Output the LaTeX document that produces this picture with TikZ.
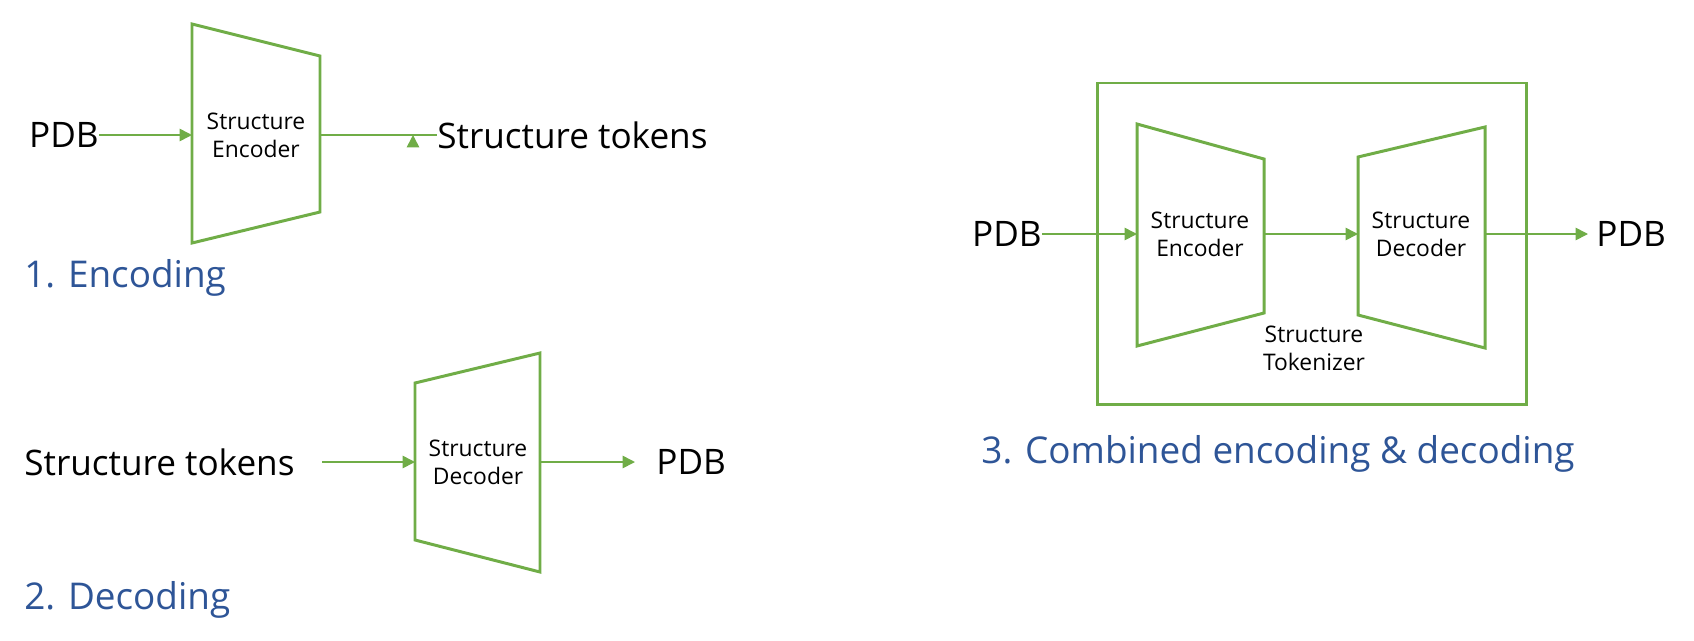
\documentclass[tikz,border=0pt]{standalone}
\usepackage{fontspec}
\setmainfont{Open Sans}
\usetikzlibrary{arrows.meta}
\definecolor{grn}{HTML}{70AD47}
\definecolor{ttl}{HTML}{2E5597}
\tikzset{
  part/.style={draw=grn, line width=1.7pt, line join=miter},
  flow/.style={draw=grn, line width=0.9pt, -{Triangle[length=7pt,width=7pt]}},
  big/.style={font=\fontsize{20}{24}\selectfont, inner sep=0pt},
  small/.style={font=\fontsize{13}{16}\selectfont, align=center, inner sep=0pt},
  title/.style={font=\fontsize{21}{25}\selectfont, text=ttl, inner sep=0pt}
}
\begin{document}
\begin{tikzpicture}[x=0.02cm, y=-0.02cm]
\useasboundingbox (0,0) rectangle (1694,640);

% 1. encoding
\draw[part] (192,24) -- (320,56) -- (320,212) -- (192,243) -- cycle;
\coordinate (enc1in) at (192,135);
\coordinate (enc1out) at (320,135);
\node[small] (enc1) at (256,135) {Structure\\Encoder};
\node[big, anchor=east] (pdb1) at (99,135) {PDB};
\node[big, anchor=west] (tok1) at (437,135) {Structure tokens};
\draw[flow] (pdb1.east) -- (enc1in);
\draw[flow] (enc1out) -- (tok1.west) ++(-24,0);
\node[title, anchor=west] (t1) at (24,278) {1. Encoding};

% 2. decoding
\draw[part] (415,383) -- (540,353) -- (540,572) -- (415,540) -- cycle;
\coordinate (dec2in) at (415,462);
\coordinate (dec2out) at (540,462);
\node[small] (dec2) at (478,462) {Structure\\Decoder};
\node[big, anchor=west] (tok2) at (24,462) {Structure tokens};
\node[big, anchor=west] (pdb2) at (656,462) {PDB};
\coordinate (tok2end) at (322,462);
\coordinate (pdb2end) at (635,462);
\draw[flow] (tok2end) -- (dec2in);
\draw[flow] (dec2out) -- (pdb2end);
\node[title, anchor=west] (t2) at (24,600) {2. Decoding};

% 3. combined
\draw[part] (1097,83) rectangle (1526,404);
\draw[part] (1137,124) -- (1264,159) -- (1264,313) -- (1137,346) -- cycle;
\draw[part] (1358,157) -- (1485,127) -- (1485,348) -- (1358,315) -- cycle;
\node[small] (enc3) at (1200,234) {Structure\\Encoder};
\node[small] (dec3) at (1421,234) {Structure\\Decoder};
\node[small] (tokz) at (1314,348) {Structure\\Tokenizer};
\coordinate (enc3in) at (1137,234);
\coordinate (enc3out) at (1264,234);
\coordinate (dec3in) at (1358,234);
\coordinate (dec3out) at (1485,234);
\coordinate (pdb4end) at (1588,234);
\node[big, anchor=east] (pdb3) at (1042,234) {PDB};
\node[big, anchor=west] (pdb4) at (1596,234) {PDB};
\draw[flow] (pdb3.east) -- (enc3in);
\draw[flow] (enc3out) -- (dec3in);
\draw[flow] (dec3out) -- (pdb4end);
\node[title] (t3) at (1278,454) {3. Combined encoding \& decoding};
\end{tikzpicture}
\end{document}
